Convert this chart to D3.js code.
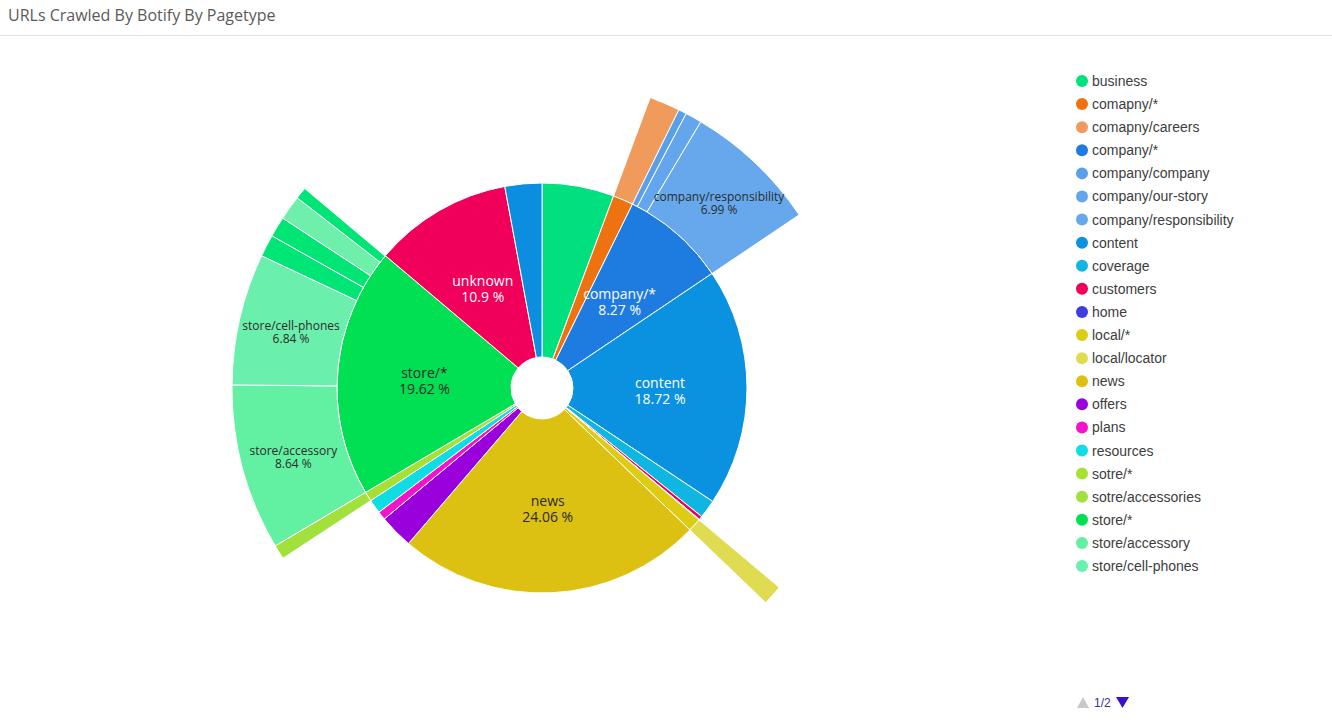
<!DOCTYPE html>
<html>
<head>
<meta charset="utf-8">
<script src="https://cdn.jsdelivr.net/npm/d3@7"></script>
<style>
  html, body { margin: 0; padding: 0; background: #fff; }
  svg { display: block; }
</style>
</head>
<body>
<svg id="chart" width="1332" height="723"></svg>
<script>
// ---------- DATA ----------
const title = "URLs Crawled By Botify By Pagetype";

// inner ring (top-level page types), % of all crawled URLs
const parentNames  = ["business","comapny/*","company/*","content","coverage","customers","home","local/*","news","offers","plans","resources","sotre/*","store/*","unknown","wireless"];
const parentValues = [5.66, 1.6, 8.27, 18.72, 1.45, 0.28, 0.05, 1.05, 24.06, 2.67, 0.67, 1.1, 0.75, 19.62, 10.9, 2.9];

// outer ring (sub page types)
const childNames   = ["comapny/careers","company/company","company/our-story","company/responsibility","local/locator","sotre/accessories","store/accessory","store/cell-phones","store/deals","store/phones","store/plans","store/tablets"];
const childParents = ["comapny/*","company/*","company/*","company/*","local/*","sotre/*","store/*","store/*","store/*","store/*","store/*","store/*"];
const childValues  = [1.6, 0.42, 0.86, 6.99, 1.05, 0.75, 8.64, 6.84, 1.15, 1.06, 1.28, 0.61];

const colorNames  = ["business","comapny/*","comapny/careers","company/*","company/company","company/our-story","company/responsibility","content","coverage","customers","home","local/*","local/locator","news","offers","plans","resources","sotre/*","sotre/accessories","store/*","store/accessory","store/cell-phones","store/deals","store/phones","store/plans","store/tablets","unknown","wireless"];
const colorValues = ["#00e07e","#ef7210","#f09a5c","#1e7be0","#5b9fe8","#64a6ee","#66a8eb","#0a91e0","#10b6e2","#f0005c","#3d3de0","#dccc14","#e0dc52","#dcc012","#9a00dc","#f214cc","#10dce4","#a6e030","#a2e03c","#00e052","#62f0a2","#6af0ac","#00e676","#00e574","#6ef0aa","#00e676","#f0005a","#0c8ee0"];

const legendPageSize = 22;
const pageLabel = "1/2";

// ---------- LAYOUT ----------
const W = 1332, H = 723;
const cx = 542, cy = 388;
const ringRadii = [31, 205, 310]; // hole, inner ring outer edge, outer ring outer edge

const svg = d3.select("#chart");
const color = d3.scaleOrdinal().domain(colorNames).range(colorValues);

// title + separator
svg.append("text")
  .attr("x", 8).attr("y", 21)
  .attr("font-family", "'Open Sans', sans-serif")
  .attr("font-size", 16)
  .attr("fill", "#5a5a5a")
  .text(title);
svg.append("line")
  .attr("x1", 0).attr("x2", W).attr("y1", 35.5).attr("y2", 35.5)
  .attr("stroke", "#e2e2e2").attr("stroke-width", 1);

// ---------- HIERARCHY ----------
const rows = [{id: "root", parent: null, own: 0}];
parentNames.forEach((n, i) => {
  const kids = childValues.filter((v, j) => childParents[j] === n);
  const kidSum = d3.sum(kids);
  rows.push({id: n, parent: "root", own: Math.max(0, parentValues[i] - kidSum), pct: parentValues[i]});
});
childNames.forEach((n, j) => {
  rows.push({id: n, parent: childParents[j], own: childValues[j], pct: childValues[j]});
});

const root = d3.stratify().id(d => d.id).parentId(d => d.parent)(rows)
  .sum(d => d.own);

d3.partition().size([2 * Math.PI, 3])(root);

const radius = d3.scaleLinear().domain([1, 2, 3]).range(ringRadii);

const arc = d3.arc()
  .startAngle(d => d.x0)
  .endAngle(d => d.x1)
  .innerRadius(d => radius(d.y0))
  .outerRadius(d => radius(d.y1));

const g = svg.append("g").attr("transform", `translate(${cx},${cy})`);
const nodes = root.descendants().filter(d => d.depth > 0);

g.selectAll("path")
  .data(nodes)
  .join("path")
  .attr("d", arc)
  .attr("fill", d => color(d.data.id))
  .attr("stroke", "#ffffff")
  .attr("stroke-width", 1)
  .attr("stroke-linejoin", "round");

// labels for large slices: two separate text lines
const labelled = nodes.filter(d => d.data.pct >= 6);
const fs = d => d.depth === 1 ? 14 : 12;
const lg1 = g.selectAll("g.lbl")
  .data(labelled)
  .join("g")
  .attr("class", "lbl")
  .attr("transform", d => {
    const [x, y] = arc.centroid(d);
    return `translate(${x},${y})`;
  })
  .attr("text-anchor", "middle")
  .attr("font-family", "'Open Sans', sans-serif")
  .attr("font-size", fs)
  .attr("fill", d => d3.lab(color(d.data.id)).l < 65 ? "#ffffff" : "#2b2b2b");
lg1.append("text")
  .attr("y", 0)
  .text(d => d.data.id);
lg1.append("text")
  .attr("y", d => d.depth === 1 ? 16 : 13)
  .text(d => d.data.pct + " %");

// ---------- LEGEND ----------
const legendItems = colorNames.slice().sort(d3.ascending).slice(0, legendPageSize);
const legendY = d3.scalePoint().domain(legendItems).range([81, 566]);
const lg = svg.append("g");
const li = lg.selectAll("g").data(legendItems).join("g")
  .attr("transform", d => `translate(1082,${legendY(d)})`);
li.append("circle").attr("r", 6).attr("fill", d => color(d));
li.append("text")
  .attr("x", 10).attr("y", 5)
  .attr("font-family", "'Liberation Sans', Arial, sans-serif")
  .attr("font-size", 14)
  .attr("fill", "#3d3d3d")
  .text(d => d);

// pager
const pg = svg.append("g").attr("transform", "translate(0,702)");
pg.append("path").attr("d", "M1077,6 L1089,6 L1083,-5 Z").attr("fill", "#c8c8c8");
pg.append("text")
  .attr("x", 1094).attr("y", 5)
  .attr("font-family", "'Liberation Sans', Arial, sans-serif")
  .attr("font-size", 12)
  .attr("fill", "#33339a")
  .text(pageLabel);
pg.append("path").attr("d", "M1116,-5 L1129,-5 L1122.5,6 Z").attr("fill", "#3a10d0");
</script>
</body>
</html>
